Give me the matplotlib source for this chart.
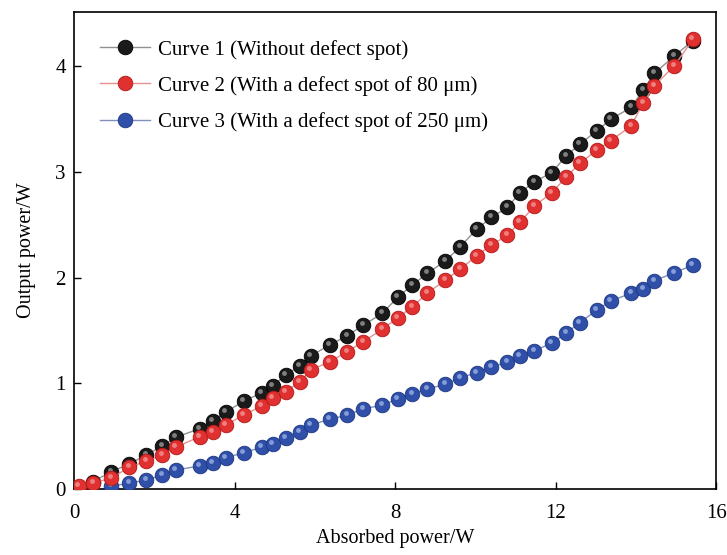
import numpy as np
import matplotlib.pyplot as plt
from matplotlib import transforms

plt.rcParams['font.family'] = ['Liberation Serif', 'DejaVu Serif']

# absorbed power (W), shared by the three curves
x_all = [0.12, 0.47, 0.93, 1.37, 1.80, 2.20, 2.53, 3.13, 3.45, 3.78, 4.23, 4.67,
         4.95, 5.27, 5.62, 5.90, 6.37, 6.81, 7.20, 7.68, 8.07, 8.43, 8.80, 9.25,
         9.62, 10.03, 10.40, 10.80, 11.11, 11.47, 11.90, 12.26, 12.60, 13.03,
         13.37, 13.88, 14.18, 14.46, 14.96, 15.42]

# Curve 1 (without defect spot) - starts at the 2nd x value
y_black = [0.07, 0.164, 0.236, 0.322, 0.407, 0.489, 0.570, 0.643, 0.728, 0.832,
           0.908, 0.977, 1.075, 1.166, 1.260, 1.362, 1.450, 1.548, 1.661, 1.816,
           1.929, 2.040, 2.156, 2.291, 2.456, 2.569, 2.664, 2.802, 2.906, 2.991,
           3.149, 3.262, 3.388, 3.496, 3.609, 3.773, 3.931, 4.097, 4.24]

# Curve 2 (80 um defect spot)
y_red = [0.028, 0.06, 0.10, 0.208, 0.26, 0.322, 0.394, 0.495, 0.542, 0.605, 0.700,
         0.785, 0.863, 0.920, 1.015, 1.125, 1.204, 1.298, 1.393, 1.510, 1.620,
         1.724, 1.851, 1.976, 2.078, 2.206, 2.307, 2.402, 2.522, 2.676, 2.802,
         2.948, 3.080, 3.206, 3.294, 3.433, 3.647, 3.814, 4.003, 4.252]

# Curve 3 (250 um defect spot) - starts at the 3rd x value
y_blue = [0.028, 0.054, 0.085, 0.132, 0.180, 0.217, 0.243, 0.296, 0.343, 0.394,
          0.426, 0.485, 0.542, 0.605, 0.659, 0.700, 0.756, 0.794, 0.851, 0.898,
          0.946, 0.990, 1.052, 1.100, 1.156, 1.198, 1.258, 1.308, 1.378, 1.472,
          1.573, 1.693, 1.778, 1.851, 1.891, 1.970, 2.045, 2.118]

labels = ['Curve 1 (Without defect spot)',
          'Curve 2 (With a defect spot of 80 \u03bcm)',
          'Curve 3 (With a defect spot of 250 \u03bcm)']

series = [
    (x_all[1:], y_black, '#1a1a1a', '#000000', '#8a8a8a', '#909090', 2),
    (x_all, y_red, '#e03030', '#b01818', '#f08a8a', '#e89090', 4),
    (x_all[2:], y_blue, '#2f4fa8', '#1c3580', '#8fa6dc', '#8090b8', 3),
]

fig, ax = plt.subplots(figsize=(7.27, 5.55), dpi=100)
fig.subplots_adjust(left=0.102, right=0.985, bottom=0.119, top=0.978)

# small offset for the glossy highlight on each ball
hl = transforms.offset_copy(ax.transData, fig=fig, x=-1.5, y=2.0, units='dots')

for (xs, ys, fc, ec, hc, lc, z), lab in zip(series, labels):
    ax.plot(xs, ys, '-', color=lc, lw=1.0, zorder=z - 0.5)
    ax.plot(xs, ys, 'o', ms=10.5, mfc=fc, mec=ec, mew=0.6, zorder=z)
    ax.plot(xs, ys, 'o', ms=3.5, mfc=hc, mec='none', alpha=0.9,
            transform=hl, zorder=z + 0.1)

# legend proxies
handles = []
for (xs, ys, fc, ec, hc, lc, z), lab in zip(series, labels):
    h, = ax.plot([], [], '-o', color=lc, lw=1.0, ms=10.5, mfc=fc, mec=ec, mew=0.6)
    handles.append(h)
ax.legend(handles, labels, loc='upper left', frameon=False, fontsize=15,
          handlelength=2.4, handletextpad=0.35, labelspacing=0.78,
          borderaxespad=0.0, bbox_to_anchor=(0.028, 0.96))

ax.set_xlim(0, 16)
ax.set_ylim(0, 4.51)
ax.set_xticks([0, 4, 8, 12, 16])
ax.set_yticks([0, 1, 2, 3, 4])
ax.tick_params(direction='in', length=5, width=1.0, labelsize=15,
               top=False, right=False)
ax.tick_params(axis='x', pad=11)
ax.tick_params(axis='y', pad=6)
for s in ax.spines.values():
    s.set_linewidth(1.2)

ax.set_xlabel('Absorbed power/W', fontsize=14.5, labelpad=4)
ax.set_ylabel('Output power/W', fontsize=14.5, labelpad=14)

plt.savefig('out.png', dpi=100)
